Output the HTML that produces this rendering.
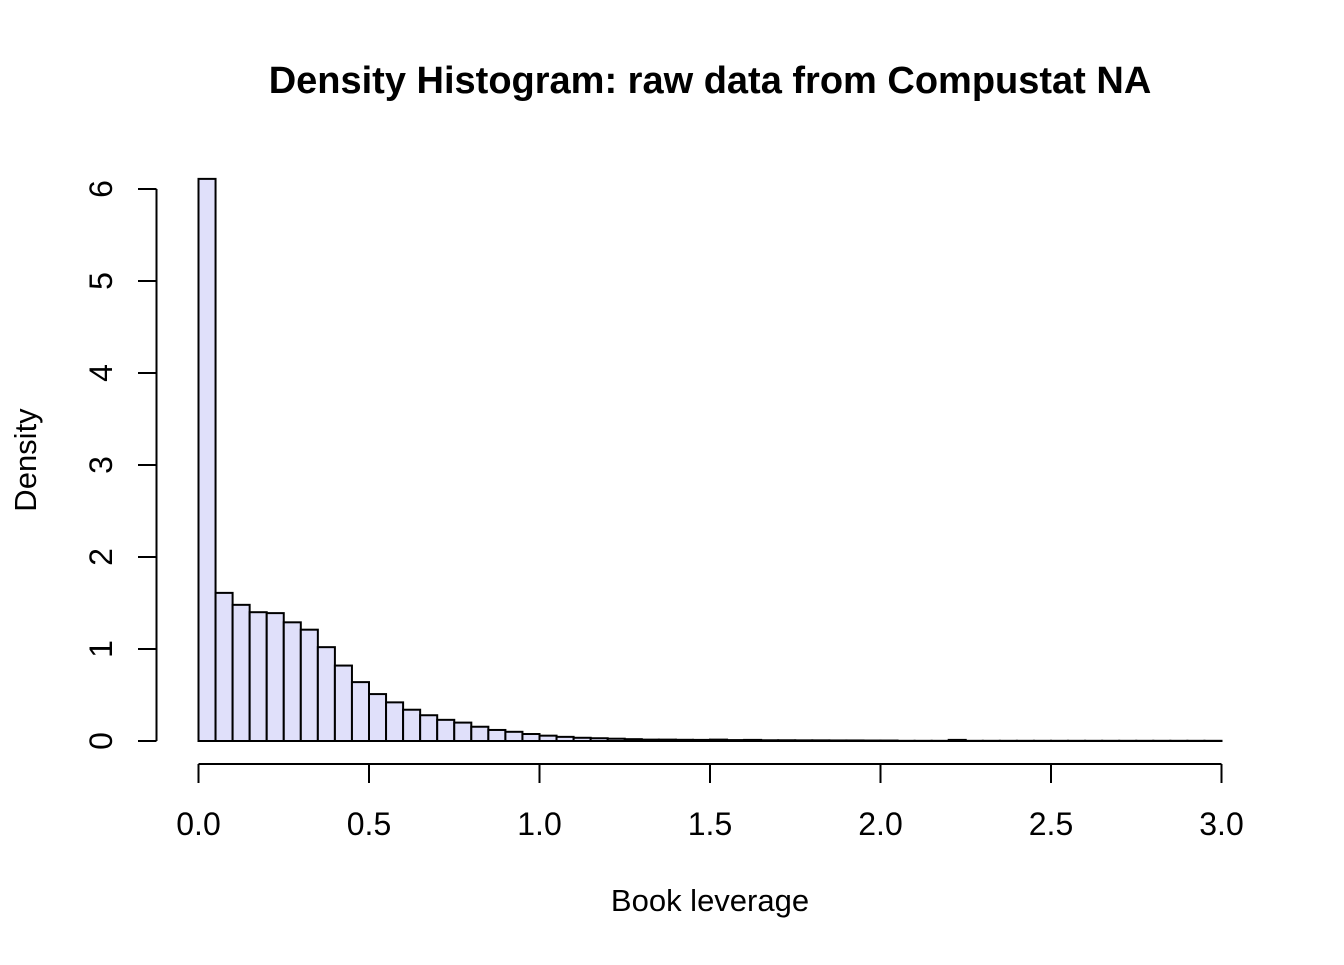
<!DOCTYPE html>
<html><head><meta charset="utf-8"><style>
body{margin:0;background:#fff}
svg text{font-family:"Liberation Sans",Arial,sans-serif;fill:#000}
</style></head><body>
<svg id="chart" width="1344" height="960">
<text x="710" y="93" text-anchor="middle" font-size="38" font-weight="bold">Density Histogram: raw data from Compustat NA</text>
<text x="710" y="911" text-anchor="middle" font-size="31">Book leverage</text>
<text transform="translate(36,460) rotate(-90)" text-anchor="middle" font-size="31">Density</text>
<g id="bars"></g><g id="xaxis"></g><g id="yaxis"></g>
</svg>
<script>
const binStart = 0, binWidth = 0.05;
const densities = [6.11,1.61,1.48,1.40,1.39,1.29,1.21,1.02,0.82,0.64,0.51,0.42,0.34,0.28,0.23,0.20,0.155,0.12,0.10,0.076,
0.058,0.045,0.035,0.03,0.025,0.02,0.015,0.015,0.013,0.012,0.015,0.01,0.012,0.008,0.008,0.007,0.007,0.006,0.006,0.005,
0.005,0.002,0.002,0.002,0.012,0.002,0.002,0.002,0.002,0.002,0.002,0.002,0.002,0.002,0.002,0.002,0.002,0.002,0.002,0.002];
const xTicks = ["0.0","0.5","1.0","1.5","2.0","2.5","3.0"];
const yTicks = ["0","1","2","3","4","5","6"];
const NS="http://www.w3.org/2000/svg";
const X = v => 198.5 + v*341;
const Y = v => 741 - v*92;
function mk(tag, attrs, parent){const e=document.createElementNS(NS,tag);for(const k in attrs)e.setAttribute(k,attrs[k]);parent.appendChild(e);return e;}
const bars=document.getElementById('bars');
densities.forEach((d,i)=>{
  const x0=X(binStart+i*binWidth), x1=X(binStart+(i+1)*binWidth);
  const r=mk('rect',{x:x0,y:Y(d),width:x1-x0,height:Y(0)-Y(d),fill:'#e0e0fa',stroke:'#000','stroke-width':2},bars);
  
  
});
const xa=document.getElementById('xaxis');
const xl=mk('line',{x1:X(0),x2:X(3),y1:764,y2:764,stroke:'#000','stroke-width':2},xa);


xTicks.forEach(t=>{
  const v=parseFloat(t);
  mk('line',{x1:X(v),x2:X(v),y1:764,y2:783,stroke:'#000','stroke-width':2},xa);
  const tx=mk('text',{x:X(v),y:835,'text-anchor':'middle','font-size':32},xa);
  tx.textContent=t;
  
  
});
const ya=document.getElementById('yaxis');
const yl=mk('line',{x1:156.5,x2:156.5,y1:Y(0),y2:Y(6),stroke:'#000','stroke-width':2},ya);


yTicks.forEach(t=>{
  const v=parseFloat(t);
  mk('line',{x1:138,x2:156.5,y1:Y(v),y2:Y(v),stroke:'#000','stroke-width':2},ya);
  const tx=mk('text',{x:0,y:0,transform:`translate(112,${Y(v)}) rotate(-90)`,'text-anchor':'middle','font-size':32},ya);
  tx.textContent=t;
  
  
});
</script>
</body></html>
